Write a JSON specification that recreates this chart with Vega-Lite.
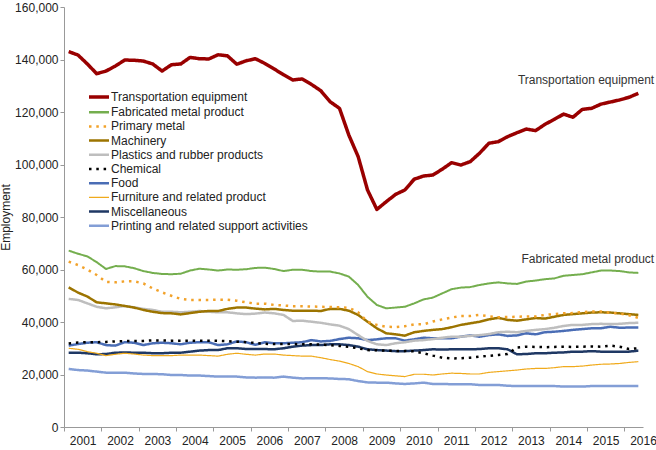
{
  "$schema": "https://vega.github.io/schema/vega-lite/v6.json",
  "autosize": {"type": "none"},
  "width": 579,
  "height": 420,
  "padding": {"left": 64, "top": 7, "right": 13, "bottom": 23},
  "config": {
    "view": {"stroke": null},
    "font": "Liberation Sans",
    "axis": {"labelFontSize": 12, "labelColor": "#222", "domainColor": "#999", "tickColor": "#999", "grid": false, "tickSize": 4}
  },
  "datasets": {
    "names": [
      {"k": "tr", "series": "Transportation equipment"},
      {"k": "fa", "series": "Fabricated metal product"},
      {"k": "pm", "series": "Primary metal"},
      {"k": "ma", "series": "Machinery"},
      {"k": "pl", "series": "Plastics and rubber products"},
      {"k": "ch", "series": "Chemical"},
      {"k": "fo", "series": "Food"},
      {"k": "fu", "series": "Furniture and related product"},
      {"k": "mi", "series": "Miscellaneous"},
      {"k": "pr", "series": "Printing and related support activities"}
    ],
    "q": [
      {"t": 2001.125, "tr": 143000, "fa": 67200, "pm": 63000, "ma": 53200, "pl": 48800, "ch": 31800, "fo": 31000, "fu": 30000, "mi": 28300, "pr": 22100},
      {"t": 2001.375, "tr": 141700, "fa": 66000, "pm": 61700, "ma": 51200, "pl": 48400, "ch": 32200, "fo": 31600, "fu": 29600, "mi": 28300, "pr": 21700},
      {"t": 2001.625, "tr": 138300, "fa": 65000, "pm": 60000, "ma": 49700, "pl": 47100, "ch": 32300, "fo": 32100, "fu": 28700, "mi": 28100, "pr": 21500},
      {"t": 2001.875, "tr": 134600, "fa": 62800, "pm": 57900, "ma": 47500, "pl": 45800, "ch": 32300, "fo": 32300, "fu": 28100, "mi": 27700, "pr": 21100},
      {"t": 2002.125, "tr": 135600, "fa": 60200, "pm": 55300, "ma": 47100, "pl": 45200, "ch": 32400, "fo": 31200, "fu": 27200, "mi": 27800, "pr": 20700},
      {"t": 2002.375, "tr": 137500, "fa": 61300, "pm": 55100, "ma": 46700, "pl": 45600, "ch": 32600, "fo": 31000, "fu": 27700, "mi": 28300, "pr": 20700},
      {"t": 2002.625, "tr": 139800, "fa": 61200, "pm": 55500, "ma": 46100, "pl": 46100, "ch": 32700, "fo": 32300, "fu": 28100, "mi": 28400, "pr": 20700},
      {"t": 2002.875, "tr": 139700, "fa": 60500, "pm": 55500, "ma": 45500, "pl": 45600, "ch": 32800, "fo": 32100, "fu": 27800, "mi": 28300, "pr": 20400},
      {"t": 2003.125, "tr": 139400, "fa": 59400, "pm": 54700, "ma": 44600, "pl": 45000, "ch": 32800, "fo": 31200, "fu": 27400, "mi": 28300, "pr": 20200},
      {"t": 2003.375, "tr": 138300, "fa": 58700, "pm": 52800, "ma": 43900, "pl": 44600, "ch": 33000, "fo": 31900, "fu": 27200, "mi": 28100, "pr": 20200},
      {"t": 2003.625, "tr": 135600, "fa": 58300, "pm": 51300, "ma": 43400, "pl": 43900, "ch": 33000, "fo": 32100, "fu": 27200, "mi": 28100, "pr": 20100},
      {"t": 2003.875, "tr": 138000, "fa": 58200, "pm": 50000, "ma": 43300, "pl": 43900, "ch": 32900, "fo": 31900, "fu": 27200, "mi": 28300, "pr": 19800},
      {"t": 2004.125, "tr": 138300, "fa": 58400, "pm": 48800, "ma": 42900, "pl": 43700, "ch": 32900, "fo": 31500, "fu": 27400, "mi": 28300, "pr": 19800},
      {"t": 2004.375, "tr": 140800, "fa": 59600, "pm": 48400, "ma": 43400, "pl": 43900, "ch": 32900, "fo": 32100, "fu": 27400, "mi": 28700, "pr": 19600},
      {"t": 2004.625, "tr": 140300, "fa": 60300, "pm": 48400, "ma": 43900, "pl": 44200, "ch": 32900, "fo": 32300, "fu": 27400, "mi": 29100, "pr": 19600},
      {"t": 2004.875, "tr": 140200, "fa": 60000, "pm": 48400, "ma": 44200, "pl": 43900, "ch": 32900, "fo": 32300, "fu": 27200, "mi": 29300, "pr": 19400},
      {"t": 2005.125, "tr": 141800, "fa": 59600, "pm": 48500, "ma": 44200, "pl": 43700, "ch": 32800, "fo": 31200, "fu": 27000, "mi": 29300, "pr": 19200},
      {"t": 2005.375, "tr": 141400, "fa": 60000, "pm": 48500, "ma": 45000, "pl": 43700, "ch": 32700, "fo": 31500, "fu": 27700, "mi": 30000, "pr": 19200},
      {"t": 2005.625, "tr": 138200, "fa": 59900, "pm": 48100, "ma": 45500, "pl": 43300, "ch": 32500, "fo": 32600, "fu": 28100, "mi": 30000, "pr": 19200},
      {"t": 2005.875, "tr": 139500, "fa": 60100, "pm": 47500, "ma": 45500, "pl": 43000, "ch": 32300, "fo": 32300, "fu": 27700, "mi": 29700, "pr": 18900},
      {"t": 2006.125, "tr": 140300, "fa": 60600, "pm": 47000, "ma": 45100, "pl": 43200, "ch": 32000, "fo": 31300, "fu": 27400, "mi": 29700, "pr": 18800},
      {"t": 2006.375, "tr": 138500, "fa": 60700, "pm": 47000, "ma": 44800, "pl": 43600, "ch": 31700, "fo": 32300, "fu": 27800, "mi": 29700, "pr": 18900},
      {"t": 2006.625, "tr": 136400, "fa": 60200, "pm": 46500, "ma": 45000, "pl": 43300, "ch": 31600, "fo": 31900, "fu": 27800, "mi": 29600, "pr": 18800},
      {"t": 2006.875, "tr": 134200, "fa": 59400, "pm": 46300, "ma": 44600, "pl": 42700, "ch": 31600, "fo": 31900, "fu": 27400, "mi": 30000, "pr": 19200},
      {"t": 2007.125, "tr": 132200, "fa": 59900, "pm": 46000, "ma": 44300, "pl": 40400, "ch": 31600, "fo": 32100, "fu": 27200, "mi": 30600, "pr": 18800},
      {"t": 2007.375, "tr": 132600, "fa": 59900, "pm": 46000, "ma": 44300, "pl": 40500, "ch": 31500, "fo": 32300, "fu": 27000, "mi": 31000, "pr": 18500},
      {"t": 2007.625, "tr": 130500, "fa": 59400, "pm": 45900, "ma": 44300, "pl": 40100, "ch": 31500, "fo": 33100, "fu": 27000, "mi": 31200, "pr": 18600},
      {"t": 2007.875, "tr": 128100, "fa": 59200, "pm": 45800, "ma": 44200, "pl": 39700, "ch": 31400, "fo": 32600, "fu": 26400, "mi": 31200, "pr": 18600},
      {"t": 2008.125, "tr": 123900, "fa": 59200, "pm": 45700, "ma": 45000, "pl": 39100, "ch": 31200, "fo": 32800, "fu": 25700, "mi": 31500, "pr": 18500},
      {"t": 2008.375, "tr": 121400, "fa": 58500, "pm": 45600, "ma": 45000, "pl": 38600, "ch": 30900, "fo": 33500, "fu": 25100, "mi": 31500, "pr": 18300},
      {"t": 2008.625, "tr": 111200, "fa": 57300, "pm": 45400, "ma": 44300, "pl": 37300, "ch": 30500, "fo": 34000, "fu": 24200, "mi": 31200, "pr": 18200},
      {"t": 2008.875, "tr": 103000, "fa": 54100, "pm": 43700, "ma": 42700, "pl": 35000, "ch": 30000, "fo": 33800, "fu": 23000, "mi": 30600, "pr": 17500},
      {"t": 2009.125, "tr": 90300, "fa": 49600, "pm": 40100, "ma": 40100, "pl": 32800, "ch": 29300, "fo": 33100, "fu": 21100, "mi": 29600, "pr": 17000},
      {"t": 2009.375, "tr": 82900, "fa": 46500, "pm": 38900, "ma": 37600, "pl": 31500, "ch": 29200, "fo": 33400, "fu": 20200, "mi": 29300, "pr": 16900},
      {"t": 2009.625, "tr": 85800, "fa": 45200, "pm": 38200, "ma": 35700, "pl": 31200, "ch": 29100, "fo": 33800, "fu": 19800, "mi": 29100, "pr": 16900},
      {"t": 2009.875, "tr": 88600, "fa": 45500, "pm": 38100, "ma": 35300, "pl": 31900, "ch": 29000, "fo": 33800, "fu": 19500, "mi": 28900, "pr": 16600},
      {"t": 2010.125, "tr": 90300, "fa": 45800, "pm": 38400, "ma": 34800, "pl": 32300, "ch": 29000, "fo": 32900, "fu": 19200, "mi": 28900, "pr": 16400},
      {"t": 2010.375, "tr": 94400, "fa": 47100, "pm": 39100, "ma": 36100, "pl": 32900, "ch": 28800, "fo": 33400, "fu": 20100, "mi": 29100, "pr": 16600},
      {"t": 2010.625, "tr": 95600, "fa": 48600, "pm": 39100, "ma": 36600, "pl": 33100, "ch": 28100, "fo": 34000, "fu": 20100, "mi": 29300, "pr": 16900},
      {"t": 2010.875, "tr": 96000, "fa": 49300, "pm": 40200, "ma": 37000, "pl": 33500, "ch": 27200, "fo": 33800, "fu": 19800, "mi": 29600, "pr": 16400},
      {"t": 2011.125, "tr": 98200, "fa": 50900, "pm": 41000, "ma": 37300, "pl": 34000, "ch": 26400, "fo": 33800, "fu": 20200, "mi": 29500, "pr": 16400},
      {"t": 2011.375, "tr": 100700, "fa": 52500, "pm": 41700, "ma": 38000, "pl": 34400, "ch": 26100, "fo": 33800, "fu": 20500, "mi": 29600, "pr": 16300},
      {"t": 2011.625, "tr": 99800, "fa": 53100, "pm": 42300, "ma": 38900, "pl": 34400, "ch": 26200, "fo": 34400, "fu": 20400, "mi": 29600, "pr": 16300},
      {"t": 2011.875, "tr": 101100, "fa": 53300, "pm": 42300, "ma": 39500, "pl": 34700, "ch": 26400, "fo": 34900, "fu": 20200, "mi": 29600, "pr": 16300},
      {"t": 2012.125, "tr": 104300, "fa": 54100, "pm": 42700, "ma": 40100, "pl": 35000, "ch": 26800, "fo": 34400, "fu": 20200, "mi": 29700, "pr": 16000},
      {"t": 2012.375, "tr": 108100, "fa": 54700, "pm": 42200, "ma": 41000, "pl": 35400, "ch": 27100, "fo": 35000, "fu": 20800, "mi": 30000, "pr": 16000},
      {"t": 2012.625, "tr": 108700, "fa": 55100, "pm": 41800, "ma": 41600, "pl": 36100, "ch": 27400, "fo": 35300, "fu": 21100, "mi": 30000, "pr": 16000},
      {"t": 2012.875, "tr": 110600, "fa": 54700, "pm": 41900, "ma": 40800, "pl": 36300, "ch": 27800, "fo": 34700, "fu": 21400, "mi": 29600, "pr": 15700},
      {"t": 2013.125, "tr": 112100, "fa": 54500, "pm": 42000, "ma": 40500, "pl": 36100, "ch": 30300, "fo": 34900, "fu": 21700, "mi": 27700, "pr": 15600},
      {"t": 2013.375, "tr": 113500, "fa": 55400, "pm": 42100, "ma": 41000, "pl": 36600, "ch": 30600, "fo": 35700, "fu": 22100, "mi": 27800, "pr": 15600},
      {"t": 2013.625, "tr": 112900, "fa": 55800, "pm": 42100, "ma": 41500, "pl": 37000, "ch": 30500, "fo": 35300, "fu": 22300, "mi": 28100, "pr": 15600},
      {"t": 2013.875, "tr": 115300, "fa": 56300, "pm": 42700, "ma": 41300, "pl": 37300, "ch": 30400, "fo": 36100, "fu": 22300, "mi": 28100, "pr": 15600},
      {"t": 2014.125, "tr": 117200, "fa": 56600, "pm": 43000, "ma": 42000, "pl": 37800, "ch": 30500, "fo": 36300, "fu": 22600, "mi": 28300, "pr": 15600},
      {"t": 2014.375, "tr": 119200, "fa": 57600, "pm": 43300, "ma": 42700, "pl": 38500, "ch": 30600, "fo": 36600, "fu": 23000, "mi": 28400, "pr": 15400},
      {"t": 2014.625, "tr": 118000, "fa": 57900, "pm": 43400, "ma": 43000, "pl": 38900, "ch": 30500, "fo": 37000, "fu": 23000, "mi": 28700, "pr": 15400},
      {"t": 2014.875, "tr": 121000, "fa": 58200, "pm": 43800, "ma": 43300, "pl": 38900, "ch": 30600, "fo": 37300, "fu": 23200, "mi": 28700, "pr": 15400},
      {"t": 2015.125, "tr": 121400, "fa": 58900, "pm": 44000, "ma": 43600, "pl": 39200, "ch": 30700, "fo": 37600, "fu": 23600, "mi": 28900, "pr": 15600},
      {"t": 2015.375, "tr": 123000, "fa": 59600, "pm": 44000, "ma": 43700, "pl": 39300, "ch": 30600, "fo": 37600, "fu": 23900, "mi": 28700, "pr": 15600},
      {"t": 2015.625, "tr": 123800, "fa": 59600, "pm": 43500, "ma": 43600, "pl": 39200, "ch": 31000, "fo": 38200, "fu": 24000, "mi": 28700, "pr": 15600},
      {"t": 2015.875, "tr": 124600, "fa": 59400, "pm": 43200, "ma": 43300, "pl": 39300, "ch": 30600, "fo": 37800, "fu": 24200, "mi": 28700, "pr": 15600},
      {"t": 2016.125, "tr": 125600, "fa": 58900, "pm": 42600, "ma": 43000, "pl": 39600, "ch": 29700, "fo": 37900, "fu": 24600, "mi": 28700, "pr": 15600},
      {"t": 2016.375, "tr": 127100, "fa": 58700, "pm": 41600, "ma": 42700, "pl": 39700, "ch": 30000, "fo": 37900, "fu": 24900, "mi": 29100, "pr": 15600}
    ]
  },
  "encoding": {
    "x": {
      "field": "t", "type": "quantitative",
      "scale": {"domain": [2001, 2016.5], "nice": false, "zero": false},
      "axis": {"title": null, "values": [2001, 2002, 2003, 2004, 2005, 2006, 2007, 2008, 2009, 2010, 2011, 2012, 2013, 2014, 2015, 2016], "format": "d", "labelOffset": 18.67, "labelFlush": false, "labelOverlap": false, "labelPadding": 4}
    },
    "y": {
      "field": "v", "type": "quantitative",
      "scale": {"domain": [0, 160000], "nice": false},
      "axis": {"title": "Employment", "titleFontSize": 12, "titleFontWeight": "normal", "titleColor": "#222", "titlePadding": 2, "values": [0, 20000, 40000, 60000, 80000, 100000, 120000, 140000, 160000], "labelExpr": "format(datum.value, ',')", "labelPadding": 2}
    }
  },
  "layer": [
    {
      "data": {"name": "q"},
      "transform": [
        {"fold": ["pr", "mi", "fu", "fo", "ch", "pl", "ma", "pm", "fa", "tr"], "as": ["k", "v"]},
        {"lookup": "k", "from": {"data": {"name": "names"}, "key": "k", "fields": ["series"]}}
      ],
      "mark": {"type": "line", "strokeJoin": "round"},
      "encoding": {
        "detail": {"field": "series", "type": "nominal"},
        "color": {
          "field": "series", "type": "nominal", "title": null,
          "scale": {
            "domain": ["Transportation equipment", "Fabricated metal product", "Primary metal", "Machinery", "Plastics and rubber products", "Chemical", "Food", "Furniture and related product", "Miscellaneous", "Printing and related support activities"],
            "range": ["#990000", "#74AE4E", "#F2A22A", "#9C7400", "#BEBEBE", "#000000", "#4A6DB5", "#F0AA1C", "#1F3864", "#839ED6"]
          },
          "legend": {
            "orient": "none", "legendX": 29, "legendY": 84, "padding": 0,
            "symbolType": "stroke", "symbolSize": 400, "labelFontSize": 12, "labelColor": "#222",
            "labelOffset": 6, "rowPadding": 2.2, "labelLimit": 400,
            "encode": {"symbols": {"update": {"strokeWidth": {"signal": "datum.value === 'Transportation equipment' ? 3.5 : datum.value === 'Furniture and related product' ? 1.2 : 2.5"}}}}
          }
        },
        "strokeDash": {
          "field": "series", "type": "nominal", "title": null,
          "scale": {
            "domain": ["Transportation equipment", "Fabricated metal product", "Primary metal", "Machinery", "Plastics and rubber products", "Chemical", "Food", "Furniture and related product", "Miscellaneous", "Printing and related support activities"],
            "range": [[1, 0], [1, 0], [2.5, 4.8], [1, 0], [1, 0], [2.5, 4.8], [1, 0], [1, 0], [1, 0], [1, 0]]
          },
          "legend": {
            "orient": "none", "legendX": 29, "legendY": 84, "padding": 0,
            "symbolType": "stroke", "symbolSize": 400, "labelFontSize": 12, "labelColor": "#222",
            "labelOffset": 6, "rowPadding": 2.2, "labelLimit": 400,
            "encode": {"symbols": {"update": {"strokeWidth": {"signal": "datum.value === 'Transportation equipment' ? 3.5 : datum.value === 'Furniture and related product' ? 1.2 : 2.5"}}}}
          }
        },
        "strokeWidth": {
          "condition": [
            {"test": "datum.series === 'Transportation equipment'", "value": 3.5},
            {"test": "datum.series === 'Furniture and related product'", "value": 1.2},
            {"test": "datum.series === 'Fabricated metal product'", "value": 2}
          ],
          "value": 2.5
        }
      }
    },
    {
      "data": {"values": [
        {"t": 2016.8, "v": 130500, "label": "Transportation equipment"},
        {"t": 2016.8, "v": 62500, "label": "Fabricated metal product"}
      ]},
      "mark": {"type": "text", "align": "right", "baseline": "alphabetic", "fontSize": 12, "color": "#333"},
      "encoding": {"text": {"field": "label", "type": "nominal"}}
    }
  ]
}
